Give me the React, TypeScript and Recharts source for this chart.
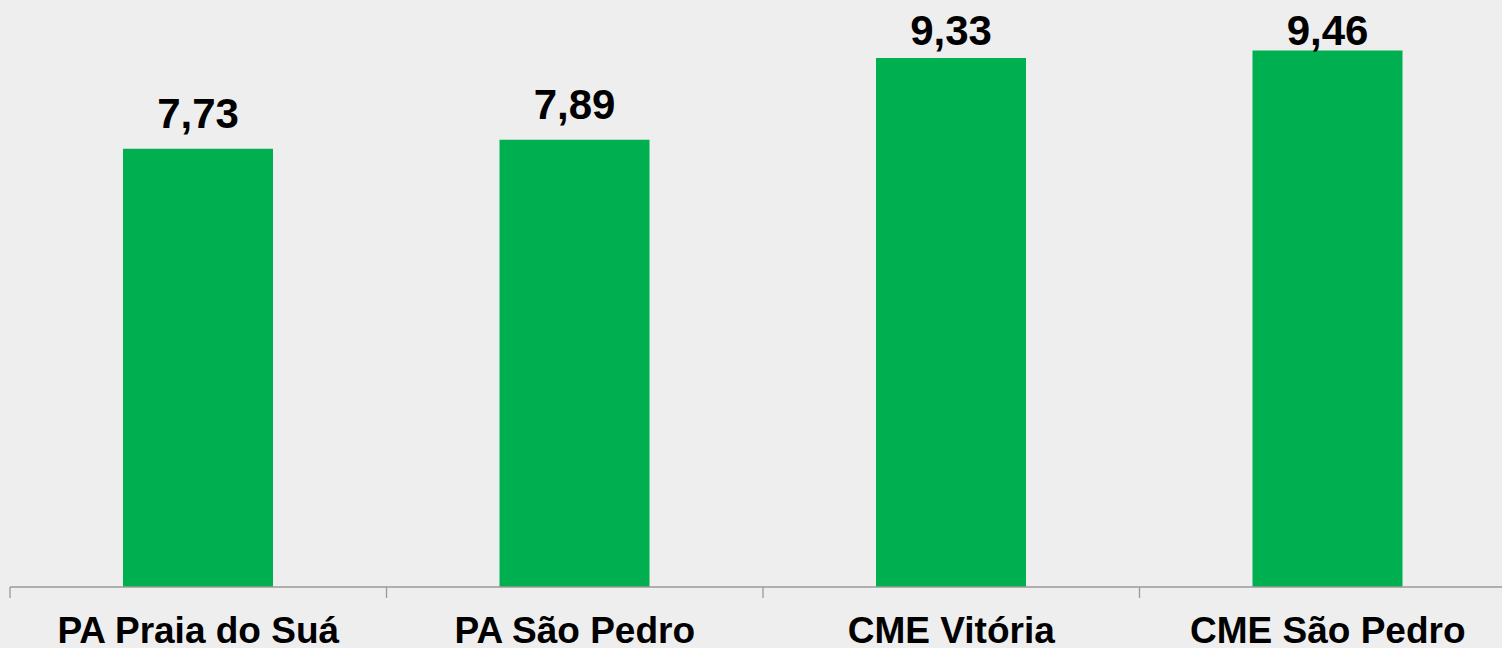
import { BarChart, Bar, XAxis, YAxis, LabelList } from "recharts";

const categories = ["PA Praia do Suá", "PA São Pedro", "CME Vitória", "CME São Pedro"];
const values = [7.73, 7.89, 9.33, 9.46];

const data = categories.map((name, i) => ({ name, value: values[i] }));

const CHART_W = 1520;
const CHART_H = 648;
const MARGIN = { top: 20, right: 4, left: 10, bottom: 0 };
const HALF_BAND = (CHART_W - MARGIN.left - MARGIN.right) / categories.length / 2;
const FONT = '"Liberation Sans", Arial, sans-serif';

const CategoryTick = (props: any) => {
  const { x, y, payload } = props;
  return (
    <g>
      <line x1={x - HALF_BAND} y1={y} x2={x - HALF_BAND} y2={y + 11} stroke="#9a9a9a" strokeWidth={1.3} />
      <text x={x} y={y + 56} textAnchor="middle" fontFamily={FONT} fontWeight="bold" fontSize={37} fill="#000">
        {payload.value}
      </text>
    </g>
  );
};

const ValueLabel = (props: any) => {
  const { x, y, width, value } = props;
  // keep labels inside the chart area near the top
  const baseline = Math.max(y - 21, 45);
  return (
    <text x={x + width / 2} y={baseline} textAnchor="middle" fontFamily={FONT} fontWeight="bold" fontSize={42} fill="#000">
      {Number(value).toFixed(2).replace(".", ",")}
    </text>
  );
};

export default function App() {
  return (
    <div
      style={{
        position: "absolute",
        left: 0,
        top: 0,
        width: 1502,
        height: 648,
        overflow: "hidden",
        background: "#eeeeee",
      }}
    >
      <BarChart width={CHART_W} height={CHART_H} data={data} margin={MARGIN}>
        <XAxis
          dataKey="name"
          height={61}
          tickSize={0}
          tickMargin={0}
          tickLine={false}
          axisLine={{ stroke: "#9a9a9a", strokeWidth: 1.3 }}
          tick={<CategoryTick />}
          interval={0}
        />
        <YAxis hide domain={[0, 10]} />
        <Bar dataKey="value" fill="#00b050" barSize={150} isAnimationActive={false}>
          <LabelList dataKey="value" content={<ValueLabel />} />
        </Bar>
      </BarChart>
    </div>
  );
}
